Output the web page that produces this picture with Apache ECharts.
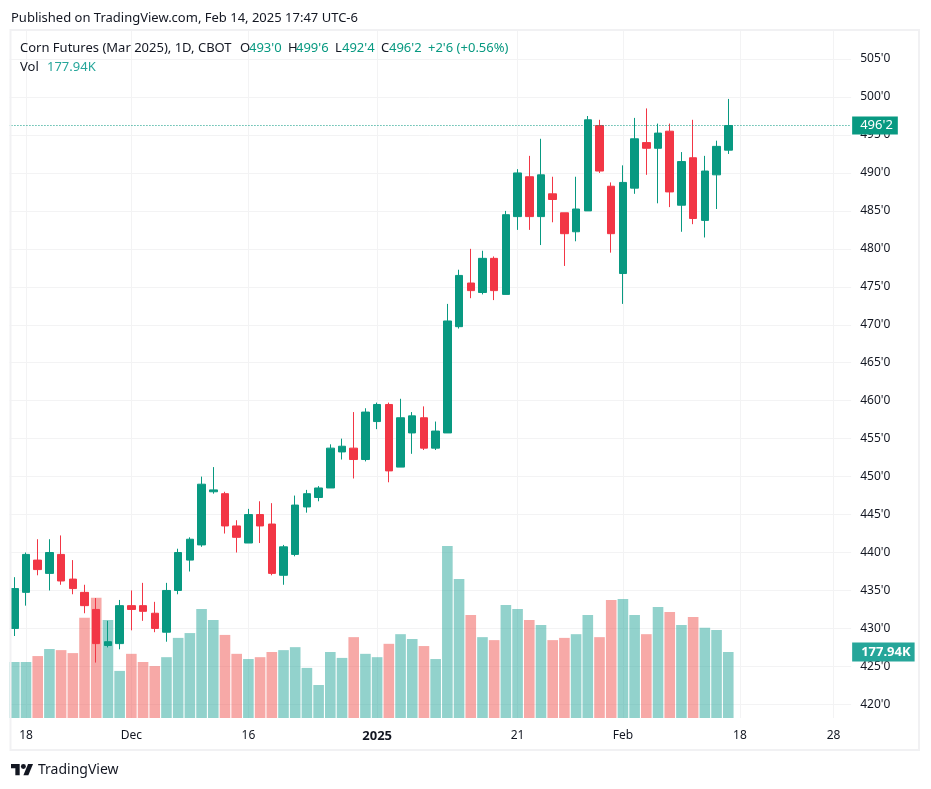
<!DOCTYPE html>
<html>
<head>
<meta charset="utf-8">
<style>html,body{margin:0;padding:0;background:#fff}#c{width:931px;height:789px}</style>
<script src="https://cdn.jsdelivr.net/npm/echarts@6/dist/echarts.min.js"></script>
</head>
<body>
<div id="c"></div>
<script>
const categories = [
 '2024-11-15','2024-11-18','2024-11-19','2024-11-20','2024-11-21','2024-11-22','2024-11-25','2024-11-26','2024-11-27','2024-11-29',
 '2024-12-02','2024-12-03','2024-12-04','2024-12-05','2024-12-06','2024-12-09','2024-12-10','2024-12-11','2024-12-12','2024-12-13',
 '2024-12-16','2024-12-17','2024-12-18','2024-12-19','2024-12-20','2024-12-23','2024-12-24','2024-12-26','2024-12-27','2024-12-30','2024-12-31',
 '2025-01-02','2025-01-03','2025-01-06','2025-01-07','2025-01-08','2025-01-09','2025-01-10','2025-01-13','2025-01-14','2025-01-15','2025-01-16','2025-01-17',
 '2025-01-21','2025-01-22','2025-01-23','2025-01-24','2025-01-27','2025-01-28','2025-01-29','2025-01-30','2025-01-31',
 '2025-02-03','2025-02-04','2025-02-05','2025-02-06','2025-02-07','2025-02-10','2025-02-11','2025-02-12','2025-02-13','2025-02-14',
 '2025-02-18','2025-02-19','2025-02-20','2025-02-21','2025-02-24','2025-02-25','2025-02-26','2025-02-27','2025-02-28','2025-03-03'
];
// open, close, low, high
const candles = [
 [430,435.25,429,436.75],[434.75,439.75,433,440],[439,437.75,437,441.75],[437.25,440,435,441.75],[439.75,436.25,435.75,442.25],
 [436.5,435.25,434.5,439],[434.75,433,432,435.75],[432.5,428,425.5,434],[427.75,428.25,427.5,431],[428,433,427.25,433.75],
 [433,432.5,429.75,435],[433,432.25,431,436],[432,430,429.5,433.5],[429.5,435,428.25,436],[435,440,434.5,440.5],
 [439,441.75,437.5,442],[441,449,440.75,450],[448,448.25,447.75,451.25],[447.75,443.5,442.5,448],[443.5,442,440,444.25],
 [441.25,445,441.25,445.75],[445,443.5,441.25,446.75],[443.75,437.25,437,446.5],[437,440.75,435.75,441],[439.75,446.25,439.5,447.5],
 [446,447.75,445.25,448.25],[447.25,448.5,446.75,448.75],[448.5,453.75,448.5,454.25],[453.25,454,452.25,455],[453.75,452.25,449.75,458.5],
 [452.25,458.5,452,459],[457.25,459.5,456.25,459.75],[459.5,450.75,449.25,459.75],[451.25,457.75,451.25,460.25],[455.75,458,453,458.5],
 [457.75,453.75,453.5,459.25],[453.75,456,453.5,457.25],[455.75,470.5,455.75,472.75],[469.75,476.5,469.5,477.25],[475.5,474.5,473.5,480],
 [474.25,478.75,474,479.75],[478.75,474.5,473.25,479],[474,484.5,474,485],[484.25,490,482.5,490.5],[489.5,484.25,482.5,492.25],
 [484.25,489.75,480.5,494.5],[487.25,486.5,483.5,489.5],[484.75,482,477.75,484.75],[482.25,485.25,481,489.5],[485,497,485,497.5],
 [496.25,490.25,490,497],[488.25,482,479.5,488.75],[476.75,488.75,472.75,491],[488,494.5,487.25,497.25],[494,493.25,489.75,498.5],
 [493.25,495.25,486,496.5],[495.5,487.5,485.5,496.5],[485.75,491.5,482.25,492.75],[492,484,483.25,497],[483.75,490.25,481.5,492.25],
 [489.75,493.5,485.25,494.25],[493,496.25,492.5,499.75]
];
// thousands of contracts
const volumes = [
 151,151,167,186,183,175,270,324,264,127,173,151,140,164,216,229,294,264,224,173,159,164,178,183,191,135,89,178,162,218,173,164,200,226,213,194,159,
 464,375,278,218,210,305,294,264,251,210,216,226,278,218,318,321,278,226,299,286,251,272,243,237,177.94
];
const xTickLabels = {'2024-11-18':'18','2024-12-02':'Dec','2024-12-16':'16','2025-01-02':'2025','2025-01-21':'21','2025-02-03':'Feb','2025-02-18':'18','2025-02-28':'28'};
const priceTicks = [420,425,430,435,440,445,450,455,460,465,470,475,480,485,490,495,500,505];
const lastPrice = 496.25, lastPriceLabel = "496'2", lastVolumeLabel = '177.94K';

const UP = '#089981', DOWN = '#F23645', VOL_UP = 'rgba(38,166,154,0.5)', VOL_DOWN = 'rgba(239,83,80,0.5)';
const FONT = '"Noto Sans", sans-serif', INK = '#131722', GRID = '#f3f3f4';

const headerRuns = [
 [11,18,'Published on TradingView.com, Feb 14, 2025 17:47 UTC-6',INK],
 [20,48,'Corn Futures (Mar 2025), 1D, CBOT',INK],
 [240,48,'O',INK],[249,48,"493'0",UP],
 [288,48,'H',INK],[296,48,"499'6",UP],
 [335,48,'L',INK],[342,48,"492'4",UP],
 [381,48,'C',INK],[389,48,"496'2",UP],
 [428,48,"+2'6 (+0.56%)",UP],
 [20,67,'Vol',INK],[47,67,'177.94K','#26a69a']
];
const isTick = (i) => xTickLabels[categories[i]] !== undefined;
const chart = echarts.init(document.getElementById('c'), null, {renderer:'canvas'});
chart.setOption({
 animation:false,
 backgroundColor:'#fff',
 textStyle:{fontFamily:FONT},
 grid:{left:8.45,right:79.85,top:30,bottom:71,containLabel:false},
 xAxis:{
  type:'category',data:categories,boundaryGap:true,
  axisLine:{show:false},axisTick:{show:false,alignWithLabel:true,interval:isTick},
  splitLine:{show:true,alignWithLabel:true,interval:isTick,lineStyle:{color:GRID,width:1}},
  axisLabel:{interval:isTick,margin:12,color:INK,fontSize:12,fontFamily:FONT,hideOverlap:false,
   formatter:(v)=> v==='2025-01-02' ? '{b|2025}' : xTickLabels[v],
   rich:{b:{fontWeight:'bold',fontSize:13,color:INK,fontFamily:FONT}}}
 },
 yAxis:[
  {type:'value',position:'right',min:418.2,max:508.83,scale:true,
   axisLine:{show:false},axisTick:{show:false,customValues:priceTicks},
   splitLine:{show:true,lineStyle:{color:GRID,width:1}},
   axisLabel:{customValues:priceTicks,margin:9,color:INK,fontSize:12,fontFamily:FONT,padding:[2,0,0,0],formatter:(v)=>v+"'0"}},
  {type:'value',min:0,max:1855,show:false,splitLine:{show:false}}
 ],
 series:[
  {type:'bar',yAxisIndex:1,barWidth:10.6,z:1,
   data:volumes.map((v,i)=>({value:v,itemStyle:{color:candles[i][1]>=candles[i][0]?VOL_UP:VOL_DOWN}})),
   markLine:{silent:true,symbol:'none',z:5,lineStyle:{color:'transparent',width:0},
    data:[{yAxis:volumes[volumes.length-1]}],
    label:{position:'end',distance:1,formatter:lastVolumeLabel,color:'#fff',backgroundColor:'#26a69a',
     fontSize:13,fontWeight:'bold',fontFamily:FONT,padding:[3,4,3,9]}}},
  {type:'candlestick',yAxisIndex:0,barWidth:8,z:2,data:candles,
   itemStyle:{color:UP,color0:DOWN,borderColor:UP,borderColor0:DOWN,borderWidth:1},
   markLine:{silent:true,symbol:'none',z:3,lineStyle:{color:UP,type:[1,2],width:1},
    data:[{yAxis:lastPrice}],
    label:{position:'end',distance:1,formatter:lastPriceLabel,color:'#fff',backgroundColor:UP,
     fontSize:13,fontFamily:FONT,padding:[3,5,2,8]}}}
 ],
 graphic:[
  {type:'rect',z:100,silent:true,shape:{x:0,y:0,width:9.5,height:789},style:{fill:'#fff'}},
  {type:'rect',z:101,silent:true,shape:{x:10.5,y:30,width:908.5,height:720},style:{fill:'none',stroke:'#f1f1f3',lineWidth:2}},
  ...headerRuns.map(r=>({type:'text',z:102,silent:true,x:r[0],y:r[1],
    style:{text:r[2],fill:r[3],font:'13px '+FONT,textVerticalAlign:'middle'}})),
  {type:'polygon',z:102,silent:true,x:11,y:761.5,scaleX:0.62,scaleY:0.62,
   shape:{points:[[0,4],[14,4],[14,22],[7,22],[7,11],[0,11]]},style:{fill:INK}},
  {type:'polygon',z:102,silent:true,x:11,y:761.5,scaleX:0.62,scaleY:0.62,
   shape:{points:[[27.5,4],[35.5,4],[28,22],[20,22]]},style:{fill:INK}},
  {type:'circle',z:102,silent:true,x:11,y:761.5,scaleX:0.62,scaleY:0.62,
   shape:{cx:20,cy:8,r:4},style:{fill:INK}},
  {type:'text',z:102,silent:true,x:38,y:770,style:{text:'TradingView',fill:INK,font:'14px '+FONT,textVerticalAlign:'middle'}}
 ]
});
</script>
</body>
</html>
